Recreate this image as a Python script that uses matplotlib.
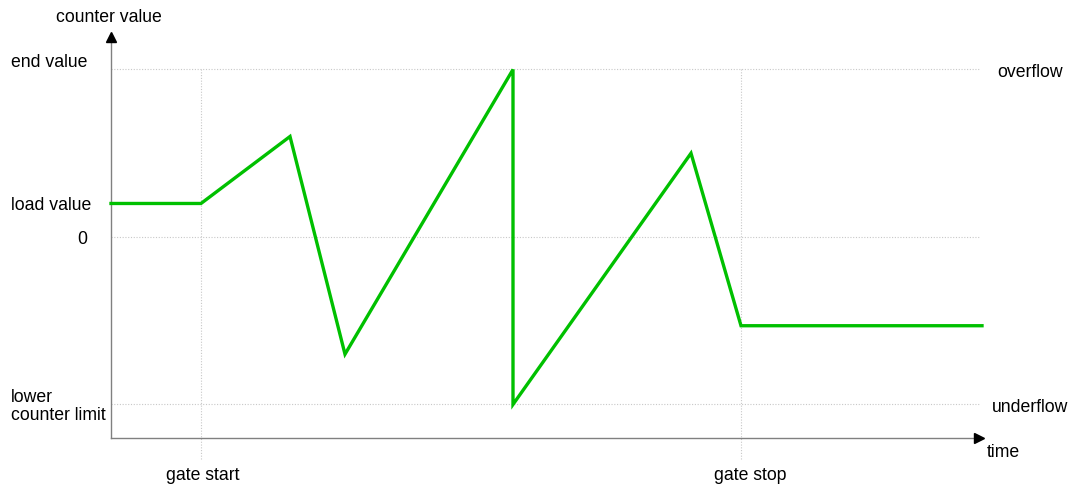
import matplotlib
matplotlib.use("Agg")
import matplotlib.pyplot as plt

plt.rcParams['font.family'] = ['Liberation Sans', 'DejaVu Sans']

# counter levels
END_VALUE = 100
ZERO = 0
LOWER_LIMIT = -100
LOAD_VALUE = 20

# gate times
GATE_START = 9.0
GATE_STOP = 63.0
T_END = 87.1

# counter curve
t = [0, 9.0, 17.9, 23.4, 40.2, 40.2, 58.0, 63.0, 87.1]
counter = [20, 20, 60, -70, 100, -100, 50, -53, -53]

fig = plt.figure(figsize=(10.87, 4.87), dpi=100)
ax = fig.add_axes([0, 0, 1, 1])
ax.set_xlim(-11.1, 97.6)
ax.set_ylim(-149.3, 141.5)
ax.axis('off')

grid_kw = dict(color='#c8c8c8', lw=0.8, ls=(0, (1, 1.5)), zorder=1)
for lvl in (END_VALUE, ZERO, LOWER_LIMIT):
    ax.plot([0, 86.8], [lvl, lvl], **grid_kw)
for g in (GATE_START, GATE_STOP):
    ax.plot([g, g], [END_VALUE, -133], **grid_kw)

# axes with arrow heads
ax.plot([0, 0], [-120, 118], color='#808080', lw=1.0, zorder=2)
ax.plot([0, 86.6], [-120, -120], color='#808080', lw=1.0, zorder=2)
ax.plot(0, 119.5, marker='^', color='black', ms=7, zorder=3)
ax.plot(86.8, -120, marker='>', color='black', ms=7, zorder=3)

ax.plot(t, counter, color='#00c000', lw=2.4, solid_joinstyle='miter', zorder=4)

fs = 12.7
kw = dict(fontsize=fs, va='center_baseline')
ax.text(-5.5, 132.0, 'counter value', ha='left', **kw)
ax.text(-10.0, END_VALUE + 5.5, 'end value', ha='left', **kw)
ax.text(-10.0, LOAD_VALUE - 0.3, 'load value', ha='left', **kw)
ax.text(-2.4, ZERO - 0.3, '0', ha='right', **kw)
ax.text(-10.0, LOWER_LIMIT + 5.5, 'lower', ha='left', **kw)
ax.text(-10.0, LOWER_LIMIT - 5.5, 'counter limit', ha='left', **kw)
ax.text(GATE_START + 0.2, -141.5, 'gate start', ha='center', **kw)
ax.text(GATE_STOP + 0.9, -141.5, 'gate stop', ha='center', **kw)
ax.text(88.6, END_VALUE - 0.5, 'overflow', ha='left', **kw)
ax.text(88.1, LOWER_LIMIT - 0.5, 'underflow', ha='left', **kw)
ax.text(87.6, -127.5, 'time', ha='left', **kw)

fig.savefig('out.png', dpi=100)
